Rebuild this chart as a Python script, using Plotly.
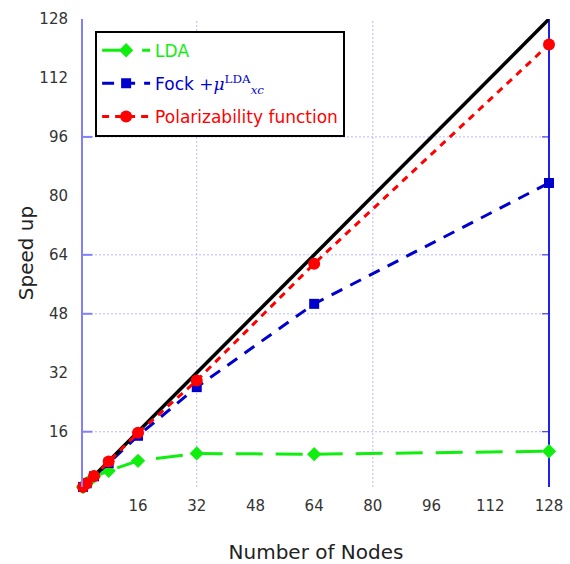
import plotly.graph_objects as go

nodes = [1, 2, 4, 8, 16, 32, 64, 128]
ideal = [1, 2, 4, 8, 16, 32, 64, 128]
lda = [1, 2, 3.8, 5.4, 8.1, 10.1, 9.9, 10.7]
fock = [1, 2, 3.9, 7.5, 14.9, 28.1, 50.7, 83.5]
polar = [1, 2, 4, 7.9, 15.7, 29.9, 61.6, 121.1]

tick_vals = [16, 32, 48, 64, 80, 96, 112, 128]
tick_text = ["16", "32", "48", "64", "80", "96", "112", "128"]
grid_x = [32, 80]
grid_y = [16, 48, 64, 96]

GREEN = "#10ee10"
BLUE = "#0000cc"
RED = "#ff0000"
FONT = "DejaVu Sans"
GRID = "#b8b8ff"

fig = go.Figure()

fig.add_trace(go.Scatter(
    x=nodes, y=lda, mode="lines+markers", cliponaxis=False, legendgroup="a",
    name='<span style="color:#10ee10">LDA</span>',
    line=dict(color=GREEN, width=3, dash="27px,13px"),
    marker=dict(symbol="diamond", size=11, color=GREEN)))
fig.add_trace(go.Scatter(
    x=nodes, y=fock, mode="lines+markers", cliponaxis=False, legendgroup="b",
    name=('<span style="color:#0000cc">Fock <span style="font-family:\'DejaVu Serif\'">+'
          '<i>μ</i><sup>LDA</sup><sub><i>xc</i></sub></span></span>'),
    line=dict(color=BLUE, width=3, dash="12px,9px"),
    marker=dict(symbol="square", size=10, color=BLUE)))
fig.add_trace(go.Scatter(
    x=nodes, y=ideal, mode="lines", cliponaxis=False, showlegend=False,
    line=dict(color="black", width=3.5)))
fig.add_trace(go.Scatter(
    x=nodes, y=polar, mode="lines+markers", cliponaxis=False, legendgroup="c",
    name='<span style="color:#ff0000">Polarizability function</span>',
    line=dict(color=RED, width=3, dash="7px,6px"),
    marker=dict(symbol="circle", size=12, color=RED)))

shapes = []
for gx in grid_x:
    shapes.append(dict(type="line", xref="x", yref="paper", x0=gx, x1=gx, y0=0, y1=1,
                       layer="below", line=dict(color=GRID, width=1, dash="2px,2px")))
for gy in grid_y:
    shapes.append(dict(type="line", xref="paper", yref="y", x0=0, x1=1, y0=gy, y1=gy,
                       layer="below", line=dict(color=GRID, width=1, dash="2px,2px")))
    # inner tick marks on left and right axes
    shapes.append(dict(type="line", xref="paper", yref="y", x0=0, x1=0.02, y0=gy, y1=gy,
                       layer="below", line=dict(color="#8080ff", width=2)))
    shapes.append(dict(type="line", xref="paper", yref="y", x0=0.985, x1=1, y0=gy, y1=gy,
                       layer="below", line=dict(color="#2020ee", width=1)))
# right axis line
shapes.append(dict(type="line", xref="paper", yref="paper", x0=1, x1=1, y0=0, y1=1,
                   layer="below", line=dict(color="#2020ee", width=2)))

fig.update_layout(
    width=570, height=564,
    margin=dict(l=83, r=21, t=19, b=77),
    paper_bgcolor="white", plot_bgcolor="white",
    font=dict(family=FONT, color="#222"),
    shapes=shapes,
    xaxis=dict(range=[1, 128], tickmode="array", tickvals=tick_vals, ticktext=tick_text,
               showgrid=False, zeroline=False, showline=False, ticks="", ticklabelstandoff=8,
               automargin=False,
               tickfont=dict(size=15, color="#333"),
               title=dict(text="Number of Nodes", font=dict(size=20, color="#222"), standoff=34)),
    yaxis=dict(range=[1, 128], tickmode="array", tickvals=tick_vals, ticktext=tick_text,
               showgrid=False, zeroline=False, showline=True, linecolor="#8080ff", linewidth=2,
               ticks="", ticklabelstandoff=10, automargin=False,
               tickfont=dict(size=15, color="#333"),
               title=dict(text="Speed up", font=dict(size=20, color="#222"), standoff=0)),
    legend=dict(x=0.026, y=0.975, xanchor="left", yanchor="top",
                bgcolor="white", bordercolor="black", borderwidth=2,
                itemwidth=48, tracegroupgap=8,
                font=dict(family=FONT, size=17)),
    showlegend=True,
)

fig.write_html("out.html")
